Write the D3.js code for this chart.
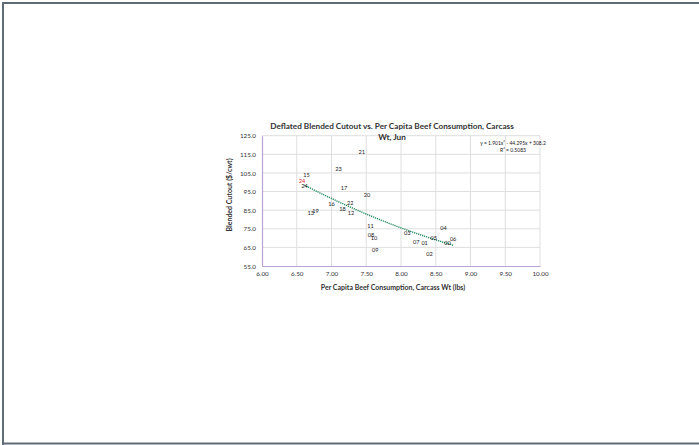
<!DOCTYPE html>
<html>
<head>
<meta charset="utf-8">
<script src="https://cdn.jsdelivr.net/npm/d3@7"></script>
<style>
  html, body { margin: 0; padding: 0; background: #fff; }
  svg { display: block; font-family: Lato, "Open Sans", sans-serif; }
</style>
</head>
<body>
<svg width="699" height="445"></svg>
<script>
// Year labels and values (x = lbs per capita, y = $/cwt)
const years = ["00", "01", "02", "03", "04", "05", "06", "07", "08", "09", "10", "11", "12",
    "13", "15", "16", "17", "18", "19", "20", "21", "22", "23", "24"]
const consumption = [8.67, 8.34, 8.41, 8.09, 8.61, 8.47, 8.75, 8.22, 7.57, 7.63, 7.61, 7.56, 7.28,
    6.70, 6.64, 7.00, 7.18, 7.16, 6.77, 7.51, 7.435, 7.27, 7.10, 6.61]
const cutout = [67.5, 67.5, 61.5, 72.9, 75.6, 70.2, 69.4, 68.1, 71.7, 63.4, 70.1, 76.5, 83.2,
    83.2, 104.0, 88.4, 97.0, 85.7, 84.6, 92.9, 116.4, 88.7, 107.1, 98.1]

// current year, highlighted in red
const current = { label: "24", x: 6.575, y: 100.6 }

// trendline coefficients from the chart: y = a x^2 + b x + c
const trend = { a: 1.901, b: -44.295, c: 308.2, r2: "0.5083" }

const x_ticks = [6, 6.5, 7, 7.5, 8, 8.5, 9, 9.5, 10]
const y_ticks = [55, 65, 75, 85, 95, 105, 115, 125]

const svg = d3.select("svg")

// outer frame (top, left, bottom)
svg.append("path")
    .attr("d", "M3,445 V3 H699 M3,443.5 H699")
    .attr("fill", "none")
    .attr("stroke", "#5f6b75")
    .attr("stroke-width", 2)

const plot = { left: 262, right: 540, top: 135.7, bottom: 266 }

const x = d3.scaleLinear().domain([6, 10]).range([plot.left, plot.right])
const y = d3.scaleLinear().domain([55, 125]).range([plot.bottom, plot.top])

// gridlines
const grid = svg.append("g").attr("class", "grid")
grid.selectAll("line.v")
    .data(x_ticks.slice(1))
    .enter()
    .append("line")
    .attr("x1", d => x(d)).attr("x2", d => x(d))
    .attr("y1", plot.top).attr("y2", plot.bottom)
    .attr("stroke", "#dedede").attr("stroke-width", 1)
grid.selectAll("line.h")
    .data(y_ticks.slice(1))
    .enter()
    .append("line")
    .attr("x1", plot.left).attr("x2", plot.right)
    .attr("y1", d => y(d)).attr("y2", d => y(d))
    .attr("stroke", "#dedede").attr("stroke-width", 1)

// axes
const x_axis = d3.axisBottom(x).tickValues(x_ticks).tickFormat(d3.format(".2f")).tickSize(0).tickPadding(6)
const y_axis = d3.axisLeft(y).tickValues(y_ticks).tickFormat(d3.format(".1f")).tickSize(0).tickPadding(6)

const gx = svg.append("g").attr("transform", `translate(0,${plot.bottom})`).call(x_axis)
const gy = svg.append("g").attr("transform", `translate(${plot.left},0)`).call(y_axis)

for (const g of [gx, gy]) {
    g.select(".domain").attr("stroke", "#b9a3d6").attr("stroke-width", 1.2)
    g.selectAll("text").attr("font-size", 6.3).attr("font-family", "Lato").attr("fill", "#333")
}
gy.selectAll("text").attr("dy", "0.35em")

// trendline
const line = d3.line().x(d => x(d)).y(d => y(trend.a * d * d + trend.b * d + trend.c))
const x_min = d3.min(consumption), x_max = d3.max(consumption)
svg.append("path")
    .datum(d3.range(x_min, x_max + 0.001, 0.02))
    .attr("d", line)
    .attr("fill", "none")
    .attr("stroke", "#1e8a5c")
    .attr("stroke-width", 1.4)
    .attr("stroke-dasharray", "1.2,0.9")

// data labels (no markers, just the year)
const points = years.map((label, i) => ({ label, x: consumption[i], y: cutout[i] }))
svg.append("g")
    .selectAll("text")
    .data(points)
    .enter()
    .append("text")
    .attr("x", d => x(d.x))
    .attr("y", d => y(d.y))
    .attr("dy", "0.35em")
    .attr("text-anchor", "middle")
    .attr("font-size", 5.6)
    .attr("fill", "#1a1a1a")
    .text(d => d.label)

svg.append("text")
    .attr("x", x(current.x))
    .attr("y", y(current.y))
    .attr("dy", "0.35em")
    .attr("text-anchor", "middle")
    .attr("font-size", 5.6)
    .attr("fill", "#e0262b")
    .text(current.label)

// equation box
const eq = svg.append("g").attr("font-size", 5).attr("fill", "#1a1a1a").attr("text-anchor", "middle")
eq.append("text").attr("x", 513).attr("y", 145)
    .text(`y = ${trend.a}x² - ${Math.abs(trend.b)}x + ${trend.c}`)
eq.append("text").attr("x", 513).attr("y", 152)
    .text(`R² = ${trend.r2}`)

// titles
const title = svg.append("text")
    .attr("text-anchor", "middle")
    .attr("font-size", 8.2)
    .attr("font-weight", "bold")
    .attr("fill", "#333")
title.append("tspan").attr("x", 392).attr("y", 129)
    .text("Deflated Blended Cutout vs. Per Capita Beef Consumption, Carcass")
title.append("tspan").attr("x", 392).attr("y", 139.5).text("Wt, Jun")

svg.append("text")
    .attr("x", 393).attr("y", 289.5)
    .attr("text-anchor", "middle")
    .attr("font-size", 7)
    .attr("font-weight", "bold")
    .attr("fill", "#333")
    .text("Per Capita Beef Consumption, Carcass Wt (lbs)")

svg.append("text")
    .attr("transform", "translate(231.5,195) rotate(-90)")
    .attr("text-anchor", "middle")
    .attr("font-size", 7)
    .attr("font-weight", "bold")
    .attr("fill", "#333")
    .text("Blended Cutout ($/cwt)")
</script>
</body>
</html>
